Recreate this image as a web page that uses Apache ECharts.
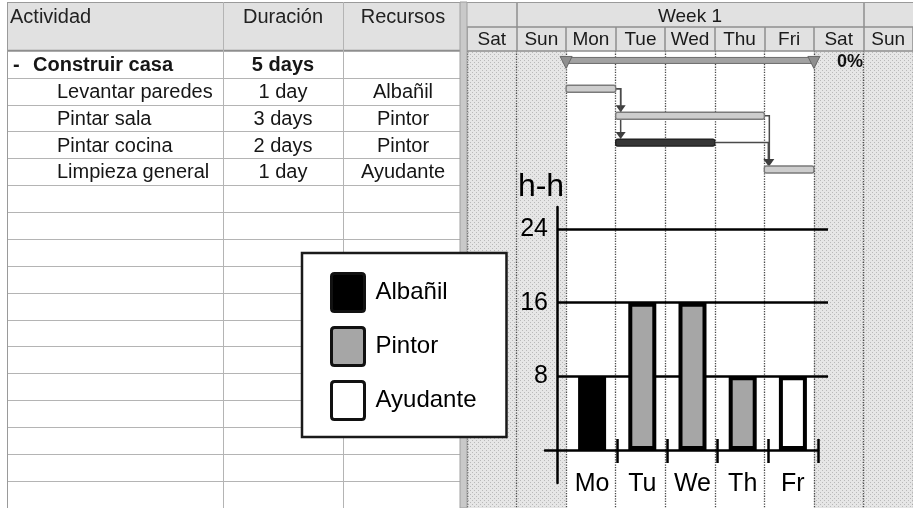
<!DOCTYPE html>
<html>
<head>
<meta charset="utf-8">
<script src="https://cdn.jsdelivr.net/npm/echarts@6/dist/echarts.min.js"></script>
<style>
  html, body { margin: 0; padding: 0; background: #fff; }
  #chart { width: 913px; height: 508px; }
</style>
</head>
<body>
<div id="chart"></div>
<script>
// ---------- project data ----------
const columnHeaders = ['Actividad', 'Duración', 'Recursos'];
const taskNames = ['Construir casa', 'Levantar paredes', 'Pintar sala', 'Pintar cocina', 'Limpieza general'];
const taskLevels = [0, 1, 1, 1, 1];
const taskStarts = [2, 2, 3, 3, 6];          // day index on the timescale (0 = first Saturday)
const taskDays = [5, 1, 3, 2, 1];
const taskResources = ['', 'Albañil', 'Pintor', 'Pintor', 'Ayudante'];
const taskLinks = [[1, 2], [1, 3], [2, 4], [3, 4]];   // [predecessor, successor]
const summaryProgress = 0;

const timescaleDays = ['Sat', 'Sun', 'Mon', 'Tue', 'Wed', 'Thu', 'Fri', 'Sat', 'Sun'];
const weekendDays = [0, 1, 7, 8];
const weekName = 'Week 1';
const weekSpan = [1, 8];

// ---------- resource load (man-hours per day) ----------
const loadDays = ['Mo', 'Tu', 'We', 'Th', 'Fr'];
const albanilHours = [8, '-', '-', '-', '-'];
const pintorHours = ['-', 16, 16, 8, '-'];
const ayudanteHours = ['-', '-', '-', '-', 8];
const hourTicks = [8, 16, 24];
const loadAxisName = 'h-h';

// ---------- layout ----------
const FONT = '"Liberation Sans", Arial, Helvetica, sans-serif';
const ROW_TOP = 51, ROW_H = 27.9, ROW_SLOTS = 17;
const DAY_W = 50.1;
const GANTT_LEFT = 467;
const COL_LINES = [7, 223, 343];
const COL_CENTERS = [0, 283, 403];
const HIGHLIGHT_TASK = 3;     // bar drawn in the dark style
const rowSlots = Array.from({ length: ROW_SLOTS }, (_, i) => i);
const LINE_GREY = '#b4b4b4';
const HEAD_GREY = '#8e8e8e';
const ROUNDED_BOX = 'path://M3,0 H30 Q33,0 33,3 V35 Q33,38 30,38 H3 Q0,38 0,35 V3 Q0,0 3,0 Z';

function dotPattern() {
  const c = document.createElement('canvas');
  c.width = 4; c.height = 4;
  const g = c.getContext('2d');
  g.fillStyle = '#e6e6e6'; g.fillRect(0, 0, 4, 4);
  g.fillStyle = '#b9b9b9'; g.fillRect(0, 0, 1, 1); g.fillRect(2, 2, 1, 1);
  return c;
}
const weekendFill = { image: dotPattern(), repeat: 'repeat' };

const chart = echarts.init(document.getElementById('chart'), null, { renderer: 'canvas' });

function txt(text, x, y, opts) {
  return {
    type: 'text',
    style: Object.assign({
      text: text, x: x, y: y, fill: '#161616', fontSize: 20, fontFamily: FONT,
      verticalAlign: 'middle', align: 'left'
    }, opts || {})
  };
}

// table rows: name / duration / resource
function renderTableRow(params, api) {
  const i = api.value(0);
  const y = api.coord([0, i])[1] + 1;
  const summary = taskLevels[i] === 0;
  const weight = summary ? 'bold' : 'normal';
  const kids = [];
  if (summary) kids.push(txt('-', 13, y, { fontWeight: 'bold' }));
  kids.push(txt(taskNames[i], summary ? 33 : 57, y, { fontWeight: weight }));
  const d = taskDays[i];
  kids.push(txt(d + (d === 1 ? ' day' : ' days'), COL_CENTERS[1], y, { fontWeight: weight, align: 'center' }));
  kids.push(txt(taskResources[i], COL_CENTERS[2], y, { align: 'center' }));
  return { type: 'group', children: kids };
}

function renderWeekend(params, api) {
  const x0 = api.coord([api.value(0), 0])[0];
  const w = api.size([1, 0])[0];
  return {
    type: 'rect',
    shape: { x: x0, y: params.coordSys.y, width: w, height: params.coordSys.height },
    style: { fill: weekendFill }
  };
}

function renderTask(params, api) {
  const i = api.value(2);
  const p0 = api.coord([api.value(0), i]);
  const p1 = api.coord([api.value(1), i]);
  const yc = p0[1];
  if (taskLevels[i] === 0) {
    const top = yc - 7;
    const tri = (x) => ({
      type: 'polygon',
      shape: { points: [[x - 6, top - 1], [x + 6, top - 1], [x, top + 11]] },
      style: { fill: '#8f8f8f', stroke: '#676767', lineWidth: 1 }
    });
    return {
      type: 'group', children: [
        { type: 'rect', shape: { x: p0[0], y: top, width: p1[0] - p0[0], height: 6 },
          style: { fill: '#a2a2a2', stroke: '#6c6c6c', lineWidth: 1 } },
        tri(p0[0]), tri(p1[0]),
        txt(summaryProgress + '%', p1[0] + 23, yc - 2, { fontWeight: 'bold', fontSize: 18, fill: '#111' })
      ]
    };
  }
  const dark = i === HIGHLIGHT_TASK;
  return {
    type: 'rect',
    shape: { x: p0[0], y: yc - 6, width: p1[0] - p0[0], height: 7, r: 2 },
    style: dark ? { fill: '#363636', stroke: '#1c1c1c', lineWidth: 1.2 }
                : { fill: '#cdcdcd', stroke: '#7a7a7a', lineWidth: 1.4 }
  };
}

function renderLink(params, api) {
  const f = api.value(0), t = api.value(1);
  const fe = api.coord([taskStarts[f] + taskDays[f], f]);
  const ts = api.coord([taskStarts[t], t]);
  const yFrom = fe[1] - 2.5;
  const topTo = ts[1] - 6;
  const xv = Math.max(fe[0] + 5, ts[0] + 4);
  return {
    type: 'group', children: [
      { type: 'polyline', shape: { points: [[fe[0], yFrom], [xv, yFrom], [xv, topTo - 5]] },
        style: { stroke: '#4a4a4a', lineWidth: 1.5, fill: null } },
      { type: 'polygon', shape: { points: [[xv - 5, topTo - 7], [xv + 5, topTo - 7], [xv, topTo]] },
        style: { fill: '#3e3e3e' } }
    ]
  };
}

const hiddenValue = (grid, extra) => Object.assign({ type: 'value', gridIndex: grid, min: 0, max: 1, show: false }, extra || {});
const blackLine = { color: '#000', width: 2.5 };

const option = {
  backgroundColor: '#fff',
  animation: false,
  textStyle: { fontFamily: FONT },
  grid: [
    { left: COL_LINES[0], width: 460 - COL_LINES[0], top: ROW_TOP, height: ROW_H * ROW_SLOTS },      // 0 table
    { left: GANTT_LEFT, width: DAY_W * timescaleDays.length, top: ROW_TOP, height: ROW_H * ROW_SLOTS }, // 1 gantt
    { left: 567, right: 95, top: 229, bottom: 58 },   // 2 load bars
    { left: 557, right: 85, top: 229, bottom: 58 },   // 3 load gridlines + labels
    { left: 545, right: 95, top: 229, bottom: 58 },   // 4 load baseline
    { left: 557, width: 10, top: 207, bottom: 25 }    // 5 load vertical axis
  ],
  xAxis: [
    hiddenValue(0),
    { type: 'value', gridIndex: 1, min: 0, max: timescaleDays.length, interval: 1, z: 3,
      axisLine: { show: false }, axisTick: { show: false }, axisLabel: { show: false },
      splitLine: { show: true, lineStyle: { type: 'dotted', color: '#4a4a4a', width: 1.3 } } },
    { type: 'category', gridIndex: 1, position: 'top', data: timescaleDays, boundaryGap: true, z: 5,
      axisLine: { show: true, lineStyle: { color: HEAD_GREY, width: 1.5 } },
      axisTick: { show: true, interval: 0, length: 24, lineStyle: { color: HEAD_GREY, width: 1.5 } },
      axisLabel: { interval: 0, fontSize: 19, color: '#1a1a1a', margin: 2, fontFamily: FONT },
      splitLine: { show: false } },
    { type: 'value', gridIndex: 1, position: 'top', offset: 24, min: 0, max: timescaleDays.length, z: 5,
      axisLine: { show: true, lineStyle: { color: HEAD_GREY, width: 1.5 } },
      axisTick: { show: true, customValues: weekSpan, length: 24, lineStyle: { color: HEAD_GREY, width: 1.5 } },
      axisLabel: { show: true, customValues: [(weekSpan[0] + weekSpan[1]) / 2], formatter: () => weekName,
                   fontSize: 19, color: '#1a1a1a', margin: 1, fontFamily: FONT },
      splitLine: { show: false } },
    { type: 'category', gridIndex: 2, data: loadDays, z: 10,
      axisLine: { show: false }, axisTick: { show: false },
      axisLabel: { fontSize: 25, color: '#000', margin: 22, fontFamily: FONT } },
    { type: 'value', gridIndex: 2, position: 'bottom', offset: -11, min: 0, max: loadDays.length, z: 10,
      axisLine: { show: false }, axisLabel: { show: false }, splitLine: { show: false },
      axisTick: { show: true, customValues: loadDays.map((_, i) => i + 1), length: 24, lineStyle: blackLine } },
    hiddenValue(3),
    { type: 'value', gridIndex: 4, min: 0, max: 1, z: 10,
      axisLine: { show: true, onZero: false, lineStyle: blackLine },
      axisTick: { show: false }, axisLabel: { show: false }, splitLine: { show: false } },
    hiddenValue(5)
  ],
  yAxis: [
    { type: 'category', gridIndex: 0, data: rowSlots, inverse: true, z: 2,
      axisLine: { show: false }, axisTick: { show: false }, axisLabel: { show: false },
      splitLine: { show: true, interval: 0, lineStyle: { color: LINE_GREY, width: 1 } } },
    { type: 'category', gridIndex: 1, data: rowSlots, inverse: true, show: false },
    { type: 'value', gridIndex: 2, min: 0, max: hourTicks[hourTicks.length - 1], show: false },
    { type: 'value', gridIndex: 3, min: 0, max: hourTicks[hourTicks.length - 1], interval: hourTicks[0], z: 10,
      axisLine: { show: false }, axisTick: { show: false },
      axisLabel: { show: true, showMinLabel: false, fontSize: 25, color: '#000', margin: 9, fontFamily: FONT,
                   formatter: (v) => (v === 0 ? '' : String(v)) },
      splitLine: { show: true, showMinLine: false, lineStyle: blackLine } },
    hiddenValue(4),
    { type: 'value', gridIndex: 5, min: 0, max: 1, z: 10,
      axisLine: { show: true, onZero: false, lineStyle: blackLine },
      axisTick: { show: false }, axisLabel: { show: false }, splitLine: { show: false },
      name: loadAxisName, nameLocation: 'end', nameGap: 4,
      nameTextStyle: { fontSize: 32, color: '#000', fontFamily: FONT, align: 'center', padding: [0, 32, 0, 0] } }
  ],
  legend: {
    data: ['Albañil', 'Pintor', 'Ayudante'],
    orient: 'vertical', left: 302, top: 253,
    padding: [19, 30, 16, 28],
    itemWidth: 33, itemHeight: 38, itemGap: 13,
    icon: ROUNDED_BOX,
    backgroundColor: '#fff', borderColor: '#1a1a1a', borderWidth: 2.5,
    itemStyle: { borderColor: '#111', borderWidth: 3 },
    textStyle: { fontSize: 24, color: '#000', fontFamily: FONT, padding: [0, 0, 0, 6] },
    selectedMode: false,
    z: 20
  },
  series: [
    { type: 'custom', name: 'weekend', xAxisIndex: 1, yAxisIndex: 1, z: 1, silent: true,
      data: weekendDays.map((d) => [d]), renderItem: renderWeekend },
    { type: 'custom', name: 'table', xAxisIndex: 0, yAxisIndex: 0, z: 4, silent: true,
      data: taskNames.map((_, i) => [i]), renderItem: renderTableRow },
    { type: 'custom', name: 'links', xAxisIndex: 1, yAxisIndex: 1, z: 4, silent: true,
      data: taskLinks, renderItem: renderLink },
    { type: 'custom', name: 'tasks', xAxisIndex: 1, yAxisIndex: 1, z: 5, silent: true,
      data: taskNames.map((_, i) => [taskStarts[i], taskStarts[i] + taskDays[i], i]), renderItem: renderTask },
    { name: 'Albañil', type: 'bar', xAxisIndex: 4, yAxisIndex: 2, stack: 'hh', barWidth: 28, z: 11,
      data: albanilHours, itemStyle: { color: '#000', borderColor: '#000', borderWidth: 4 } },
    { name: 'Pintor', type: 'bar', xAxisIndex: 4, yAxisIndex: 2, stack: 'hh', barWidth: 28, z: 11,
      data: pintorHours, itemStyle: { color: '#a6a6a6', borderColor: '#000', borderWidth: 4 } },
    { name: 'Ayudante', type: 'bar', xAxisIndex: 4, yAxisIndex: 2, stack: 'hh', barWidth: 28, z: 11,
      data: ayudanteHours, itemStyle: { color: '#fff', borderColor: '#000', borderWidth: 4 } }
  ],
  graphic: [
    // header band
    { type: 'rect', shape: { x: COL_LINES[0], y: 2, width: 913 - COL_LINES[0], height: 49 }, style: { fill: '#e1e1e1' }, z: -10 },
    { type: 'line', shape: { x1: COL_LINES[0], y1: 2.5, x2: 913, y2: 2.5 }, style: { stroke: '#9a9a9a', lineWidth: 1 }, z: 3 },
    { type: 'line', shape: { x1: COL_LINES[0], y1: 50.5, x2: 460, y2: 50.5 }, style: { stroke: HEAD_GREY, lineWidth: 1.5 }, z: 3 },
    // table column rules
    ...COL_LINES.map((x) => ({ type: 'line', shape: { x1: x + 0.5, y1: 2, x2: x + 0.5, y2: 508 },
      style: { stroke: x === COL_LINES[0] ? '#9a9a9a' : LINE_GREY, lineWidth: 1 }, z: 3 })),
    // splitter between table and timescale
    { type: 'rect', shape: { x: 460, y: 2, width: 7, height: 506 }, style: { fill: '#c9c9c9', stroke: '#a0a0a0', lineWidth: 1 }, z: 6 },
    // column headers
    { type: 'text', style: { text: columnHeaders[0], x: 10, y: 17, fontSize: 20, fontFamily: FONT, fill: '#222', verticalAlign: 'middle' }, z: 6 },
    { type: 'text', style: { text: columnHeaders[1], x: COL_CENTERS[1], y: 17, fontSize: 20, fontFamily: FONT, fill: '#222', align: 'center', verticalAlign: 'middle' }, z: 6 },
    { type: 'text', style: { text: columnHeaders[2], x: COL_CENTERS[2], y: 17, fontSize: 20, fontFamily: FONT, fill: '#222', align: 'center', verticalAlign: 'middle' }, z: 6 }
  ]
};

chart.setOption(option);
</script>
</body>
</html>
